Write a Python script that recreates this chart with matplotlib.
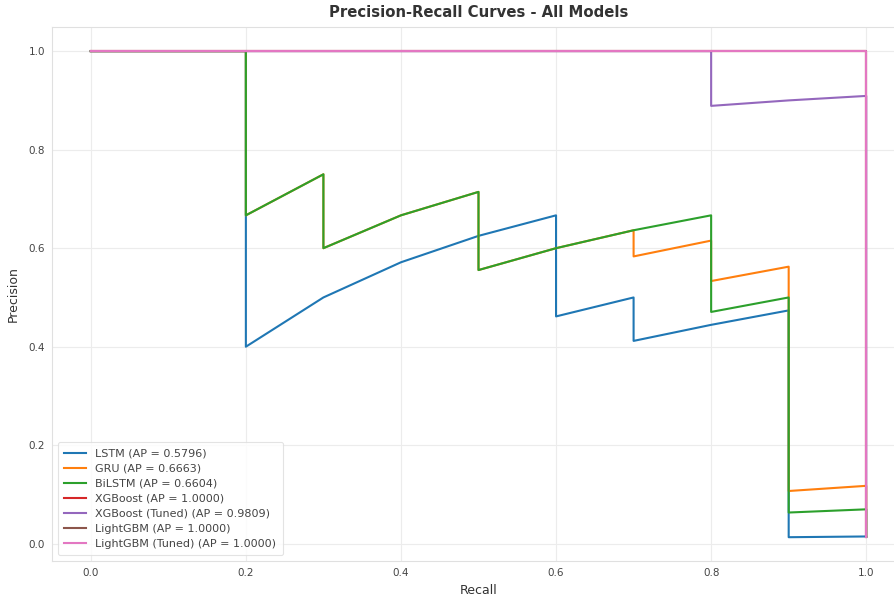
import matplotlib
matplotlib.use("Agg")
import matplotlib.pyplot as plt

# Precision-recall points (recall, precision)
lstm_recall = [0.0, 0.2, 0.2, 0.3, 0.4, 0.5, 0.6, 0.6, 0.7, 0.7, 0.8, 0.9, 0.9, 1.0, 1.0]
lstm_precision = [1.0, 1.0, 0.4, 0.5, 0.5714, 0.625, 0.6667, 0.4615, 0.5, 0.4118,
                  0.4444, 0.4737, 0.0133, 0.0148, 0.0143]

gru_recall = [0.0, 0.2, 0.2, 0.3, 0.3, 0.4, 0.5, 0.5, 0.6, 0.7, 0.7, 0.8, 0.8, 0.9, 0.9, 1.0, 1.0]
gru_precision = [1.0, 1.0, 0.6667, 0.75, 0.6, 0.6667, 0.7143, 0.5556, 0.6, 0.6364,
                 0.5833, 0.6154, 0.5333, 0.5625, 0.1071, 0.1176, 0.0143]

bilstm_recall = [0.0, 0.2, 0.2, 0.3, 0.3, 0.4, 0.5, 0.5, 0.6, 0.7, 0.8, 0.8, 0.9, 0.9, 1.0, 1.0]
bilstm_precision = [1.0, 1.0, 0.6667, 0.75, 0.6, 0.6667, 0.7143, 0.5556, 0.6, 0.6364,
                    0.6667, 0.4706, 0.5, 0.0634, 0.0699, 0.0143]

xgb_recall = [0.0, 1.0, 1.0]
xgb_precision = [1.0, 1.0, 0.0143]

xgbt_recall = [0.0, 0.8, 0.8, 0.9, 1.0, 1.0]
xgbt_precision = [1.0, 1.0, 0.8889, 0.9, 0.9091, 0.0143]

lgbm_recall = [0.0, 1.0, 1.0]
lgbm_precision = [1.0, 1.0, 0.0143]

lgbmt_recall = [0.0, 1.0, 1.0]
lgbmt_precision = [1.0, 1.0, 0.0143]

model_names = ["LSTM", "GRU", "BiLSTM", "XGBoost", "XGBoost (Tuned)", "LightGBM", "LightGBM (Tuned)"]
ap_scores = [0.5796, 0.6663, 0.6604, 1.0000, 0.9809, 1.0000, 1.0000]
recalls = [lstm_recall, gru_recall, bilstm_recall, xgb_recall, xgbt_recall, lgbm_recall, lgbmt_recall]
precisions = [lstm_precision, gru_precision, bilstm_precision, xgb_precision, xgbt_precision,
              lgbm_precision, lgbmt_precision]
colors = ["#1f77b4", "#ff7f0e", "#2ca02c", "#d62728", "#9467bd", "#8c564b", "#e377c2"]

W, H = 894, 598
fig = plt.figure(figsize=(W / 100, H / 100), dpi=100)
fig.patch.set_facecolor("white")
ax = fig.add_axes([52 / W, (H - 561) / H, (905 - 52) / W, (561 - 27) / H])
ax.set_facecolor("white")

for name, ap, r, p, c in zip(model_names, ap_scores, recalls, precisions, colors):
    ax.plot(r, p, color=c, lw=1.5, label=f"{name} (AP = {ap:.4f})")

ax.set_xlim(-0.05, 1.05)
ax.set_ylim(-0.035, 1.049)
ax.set_xticks([0.0, 0.2, 0.4, 0.6, 0.8, 1.0])
ax.set_yticks([0.0, 0.2, 0.4, 0.6, 0.8, 1.0])
ax.grid(True, color="#ececec", lw=0.8)
ax.set_axisbelow(True)
for s in ax.spines.values():
    s.set_color("#e0e0e0")
    s.set_linewidth(0.8)
ax.tick_params(axis="both", length=0, labelsize=7.5, colors="#444444", pad=5)
ax.set_xlabel("Recall", fontsize=9, color="#333333", labelpad=4)
ax.set_ylabel("Precision", fontsize=9, color="#333333", labelpad=6)
ax.set_title("Precision-Recall Curves - All Models", fontsize=10.7, fontweight="bold",
             color="#333333", pad=7)
leg = ax.legend(loc="lower left", fontsize=8, frameon=True, borderpad=0.6,
                labelspacing=0.45, handlelength=2.0, bbox_to_anchor=(0.0, 0.0))
leg.get_frame().set_edgecolor("#dddddd")
leg.get_frame().set_linewidth(0.8)
for t in leg.get_texts():
    t.set_color("#444444")

fig.savefig("out.png", dpi=100)
